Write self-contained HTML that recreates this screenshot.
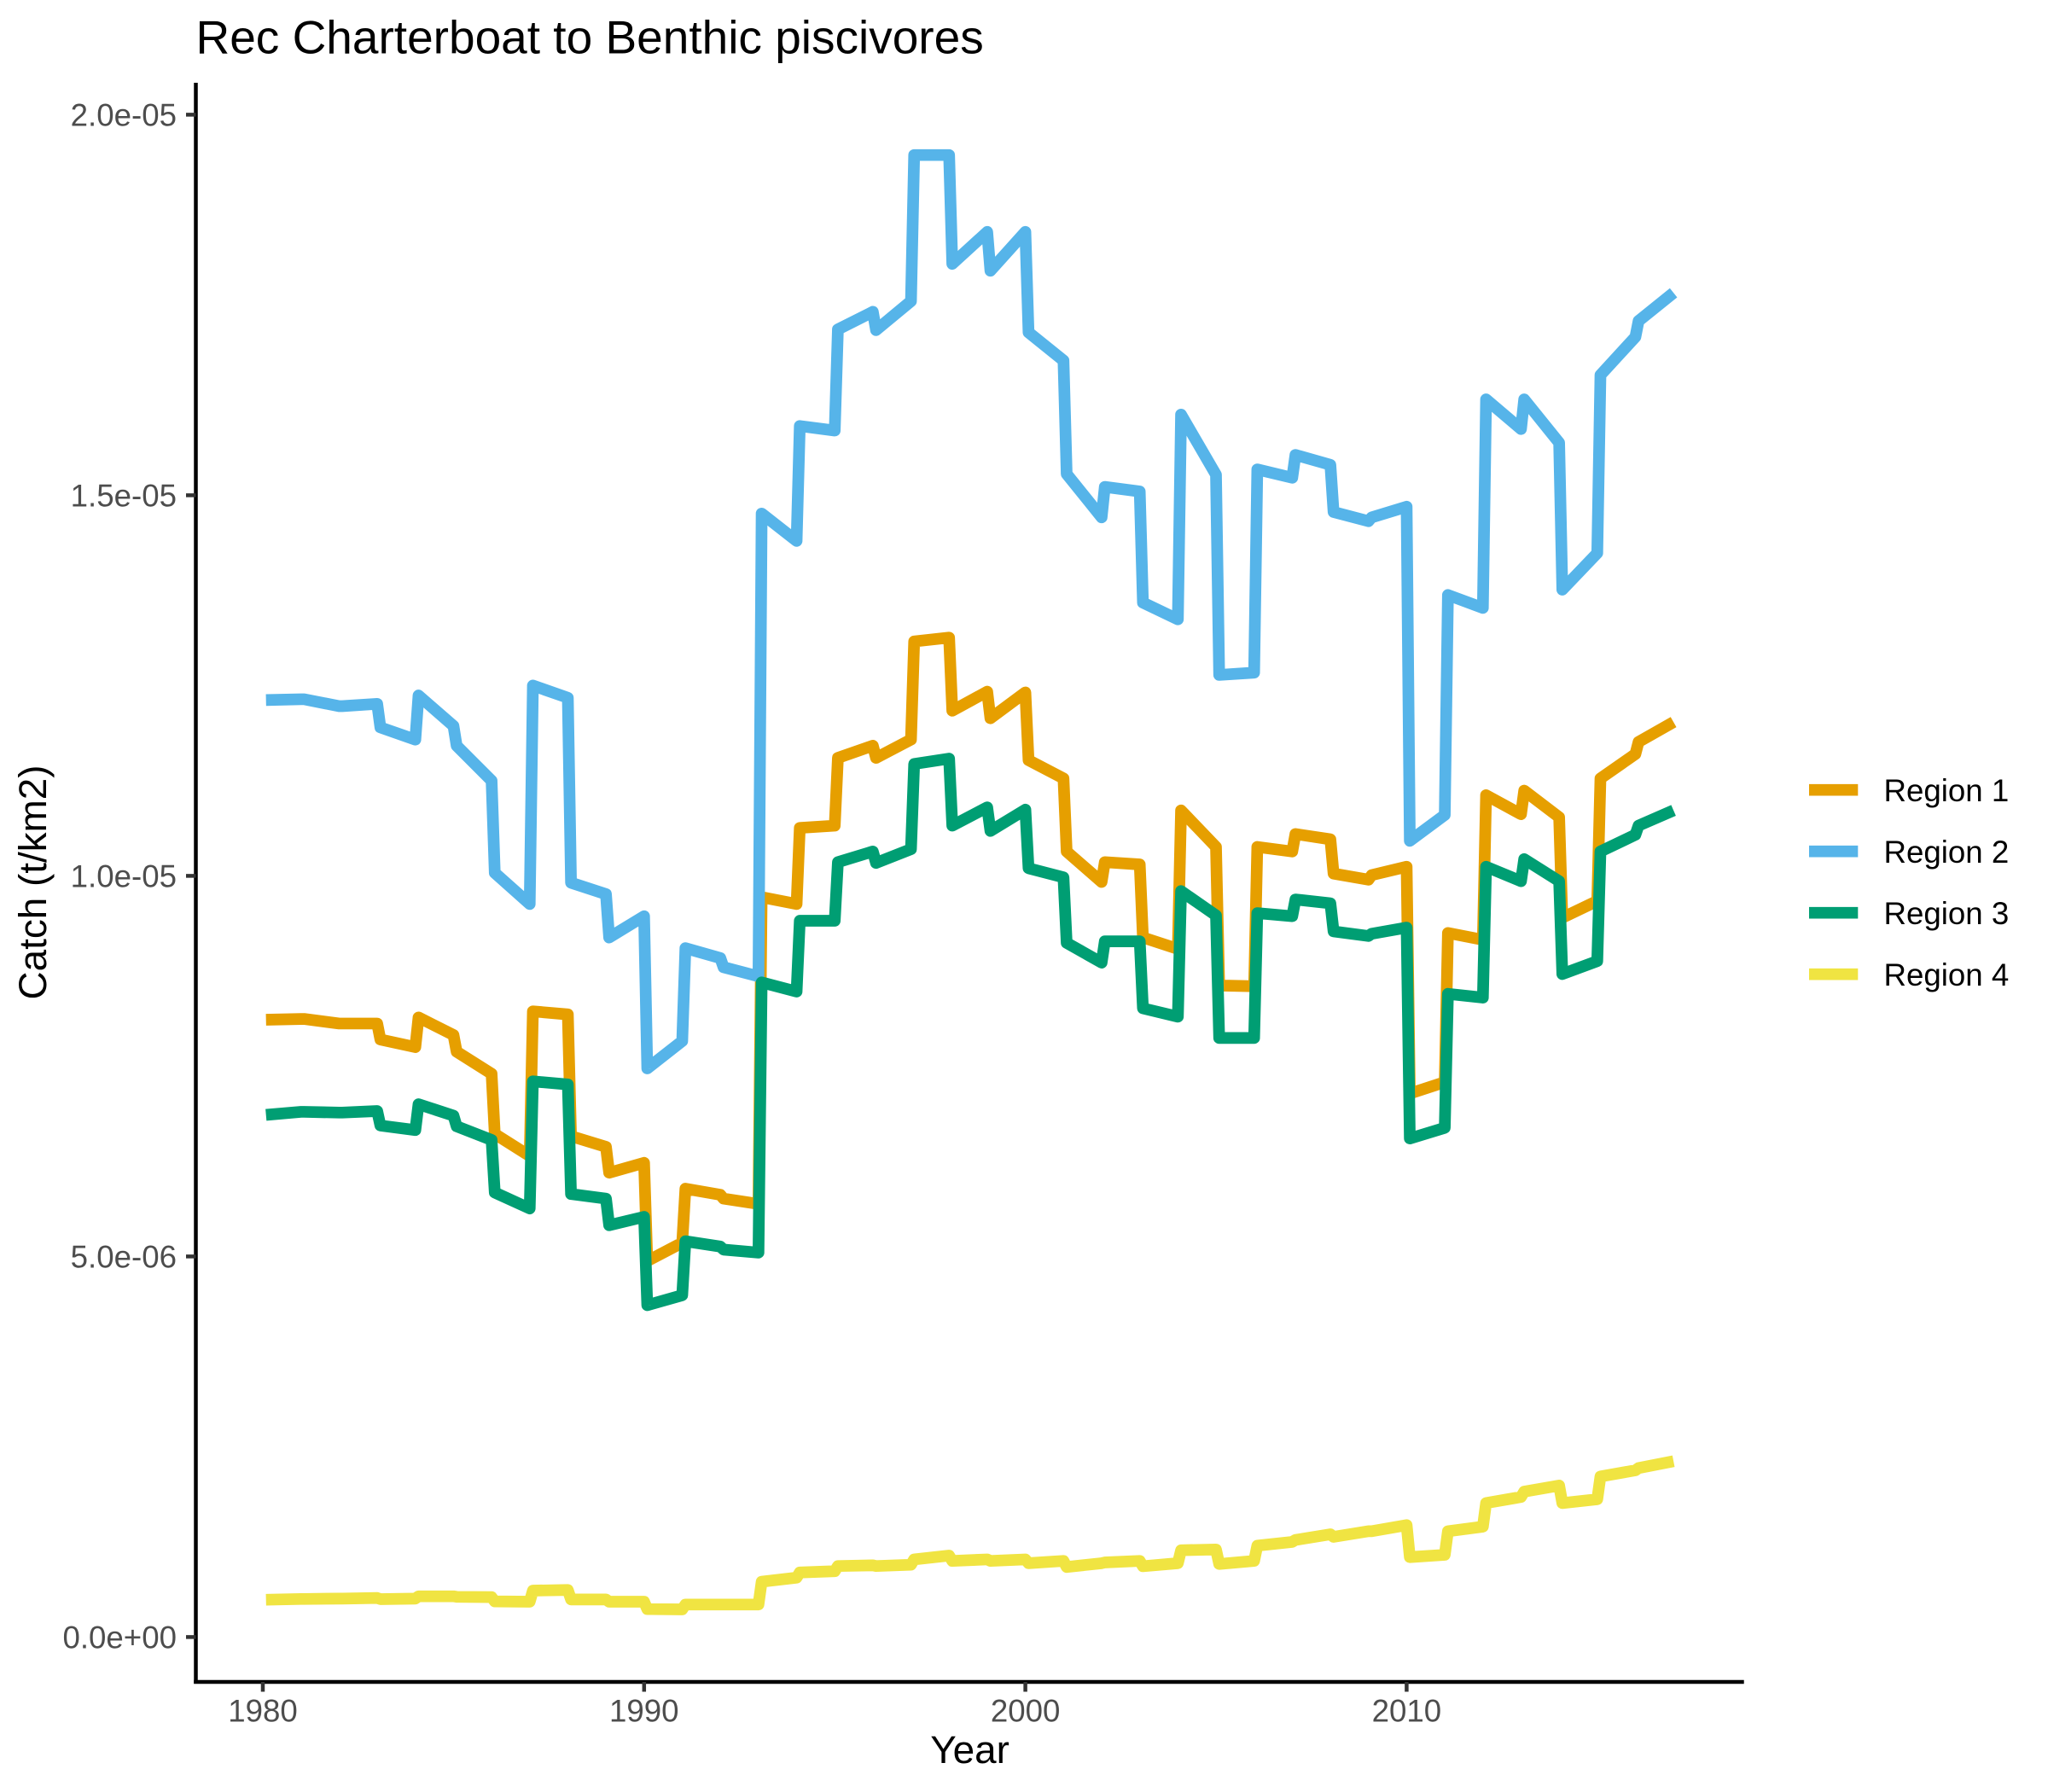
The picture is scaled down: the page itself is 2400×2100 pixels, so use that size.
<!DOCTYPE html>
<html lang="en">
<head>
<meta charset="utf-8">
<title>Rec Charterboat to Benthic piscivores</title>
<style>
  html, body { margin: 0; padding: 0; background: #ffffff; }
  svg { display: block; font-family: "Liberation Sans", Arial, sans-serif; }
</style>
</head>
<body>
<svg id="chart" xmlns="http://www.w3.org/2000/svg" width="2400" height="2100" viewBox="0 0 2400 2100">
  <rect x="0" y="0" width="2400" height="2100" fill="#ffffff"/>
  <text x="229.5" y="62.5" font-size="55" fill="#000000">Rec Charterboat to Benthic piscivores</text>
  <g id="series"></g>
  <g id="axes">
    <line x1="229.5" y1="97" x2="229.5" y2="1973" stroke="#000000" stroke-width="4.5"/>
    <line x1="227.2" y1="1971" x2="2043.7" y2="1971" stroke="#000000" stroke-width="4.5"/>
  </g>
  <g id="y-ticks"></g>
  <g id="x-ticks"></g>
  <text x="1136.6" y="2066" font-size="45.83" text-anchor="middle" fill="#000000">Year</text>
  <text transform="translate(54 1034) rotate(-90)" font-size="45.83" text-anchor="middle" fill="#000000">Catch (t/km2)</text>
  <g id="legend"></g>
</svg>
<script>
// Catch values are in units of 1e-6 t/km2. Each array holds one value per year.
const years = [1980,1981,1982,1983,1984,1985,1986,1987,1988,1989,1990,1991,1992,1993,1994,1995,1996,1997,1998,1999,2000,2001,2002,2003,2004,2005,2006,2007,2008,2009,2010,2011,2012,2013,2014,2015,2016];
const region1Start = [8.11,8.12,8.06,7.85,8.14,7.69,6.61,8.22,6.58,6.10,4.94,5.89,5.76,9.72,10.63,11.55,11.55,13.08,12.17,12.07,11.52,10.32,10.18,9.19,10.86,8.56,10.38,10.55,10.03,10.01,7.14,9.25,11.06,11.12,9.45,11.28,11.76];
const region1End = [8.12,8.06,8.06,7.75,7.91,7.40,6.32,8.18,6.44,6.23,5.18,5.81,5.69,9.63,10.66,11.71,11.79,13.13,12.42,12.41,11.28,9.92,10.15,9.04,10.38,8.55,10.32,10.48,9.95,10.12,7.29,9.16,10.81,10.77,9.67,11.60,12.02];
const region2Start = [12.31,12.32,12.23,11.95,12.37,11.71,10.04,12.50,9.91,9.19,7.47,9.05,8.80,14.76,15.91,17.18,17.17,19.47,18.04,17.95,17.14,15.28,15.11,13.59,16.06,12.64,15.34,15.53,14.78,14.71,10.46,13.69,16.26,16.26,13.76,16.58,17.29];
const region2End = [12.32,12.23,12.26,11.79,11.97,11.25,9.63,12.34,9.76,9.47,7.83,8.92,8.68,14.40,15.85,17.41,17.55,19.47,18.46,18.46,16.77,14.71,15.05,13.37,15.27,12.67,15.23,15.40,14.66,14.85,10.80,13.52,15.87,15.69,14.24,17.08,17.66];
const region3Start = [6.86,6.90,6.89,6.72,7.00,6.71,5.84,7.30,5.82,5.41,4.36,5.20,5.09,8.60,9.41,10.18,10.17,11.47,10.66,10.59,10.10,9.12,9.14,8.26,9.80,7.87,9.51,9.69,9.27,9.24,6.55,8.45,10.12,10.22,8.71,10.32,10.66];
const region3End = [6.90,6.89,6.91,6.66,6.85,6.53,5.63,7.26,5.76,5.52,4.49,5.13,5.05,8.48,9.41,10.32,10.35,11.54,10.90,10.87,9.98,8.86,9.14,8.15,9.48,7.87,9.47,9.64,9.21,9.32,6.69,8.40,9.93,9.93,8.88,10.54,10.86];
const region4Start = [0.49,0.50,0.505,0.498,0.535,0.528,0.468,0.61,0.494,0.464,0.367,0.427,0.427,0.727,0.848,0.933,0.933,1.02,1.00,1.00,0.97,0.92,0.98,0.93,1.14,0.96,1.20,1.275,1.316,1.39,1.05,1.39,1.76,1.91,1.76,2.11,2.22];
const region4End = [0.50,0.505,0.513,0.505,0.535,0.524,0.464,0.618,0.494,0.464,0.363,0.427,0.427,0.78,0.865,0.942,0.95,1.07,1.02,1.02,1.00,0.97,1.00,0.97,1.15,1.00,1.25,1.35,1.39,1.47,1.08,1.45,1.84,1.99,1.81,2.19,2.31];
const regionNames = ["Region 1","Region 2","Region 3","Region 4"];
const yTickValues = [0,5,10,15,20];
const yTickLabels = ["0.0e+00","5.0e-06","1.0e-05","1.5e-05","2.0e-05"];
const xTickValues = [1980,1990,2000,2010];
const xTickLabels = ["1980","1990","2000","2010"];

const NS = "http://www.w3.org/2000/svg";
const regionColors = ["#E69F00","#56B4E9","#009E73","#F0E442"];
const regionStarts = [region1Start, region2Start, region3Start, region4Start];
const regionEnds = [region1End, region2End, region3End, region4End];

function xScale(year) { return 308 + (year - 1980) * 44.68; }
function yScale(value) { return 1918.4 - value * 89.2; }

function make(tag, attrs, parent, text) {
  const el = document.createElementNS(NS, tag);
  for (const k in attrs) el.setAttribute(k, attrs[k]);
  if (text !== undefined) el.textContent = text;
  parent.appendChild(el);
  return el;
}

const seriesGroup = document.getElementById("series");
regionNames.forEach(function (name, r) {
  const pts = [];
  years.forEach(function (yr, i) {
    pts.push(xScale(yr + 1 / 12).toFixed(2) + "," + yScale(regionStarts[r][i]).toFixed(2));
    pts.push(xScale(yr + 1).toFixed(2) + "," + yScale(regionEnds[r][i]).toFixed(2));
  });
  const line = make("polyline", {
    points: pts.join(" "),
    fill: "none",
    stroke: regionColors[r],
    "stroke-width": 13.7,
    "stroke-linejoin": "round",
    "stroke-linecap": "butt"
  }, seriesGroup);
  
  
});

const yTicksGroup = document.getElementById("y-ticks");
yTickValues.forEach(function (v, i) {
  const y = yScale(v);
  const tick = make("line", { x1: 218, x2: 229.5, y1: y, y2: y, stroke: "#333333", "stroke-width": 4.5 }, yTicksGroup);
  
  
  const label = make("text", { x: 207, y: y + 13, "font-size": 36.67, "text-anchor": "end", fill: "#4D4D4D" }, yTicksGroup, yTickLabels[i]);
  
  
});

const xTicksGroup = document.getElementById("x-ticks");
xTickValues.forEach(function (v, i) {
  const x = xScale(v);
  const tick = make("line", { x1: x, x2: x, y1: 1971, y2: 1982.5, stroke: "#333333", "stroke-width": 4.5 }, xTicksGroup);
  
  
  const label = make("text", { x: x, y: 2017.5, "font-size": 36.67, "text-anchor": "middle", fill: "#4D4D4D" }, xTicksGroup, xTickLabels[i]);
  
  
});

const legendGroup = document.getElementById("legend");
regionNames.forEach(function (name, r) {
  const cy = 925.7 + r * 72;
  const key = make("line", { x1: 2120, x2: 2177.3, y1: cy, y2: cy, stroke: regionColors[r], "stroke-width": 13.7 }, legendGroup);
  
  
  const label = make("text", { x: 2207.5, y: cy + 13.5, "font-size": 36.67, fill: "#000000" }, legendGroup, name);
  
  
});
</script>
</body>
</html>
